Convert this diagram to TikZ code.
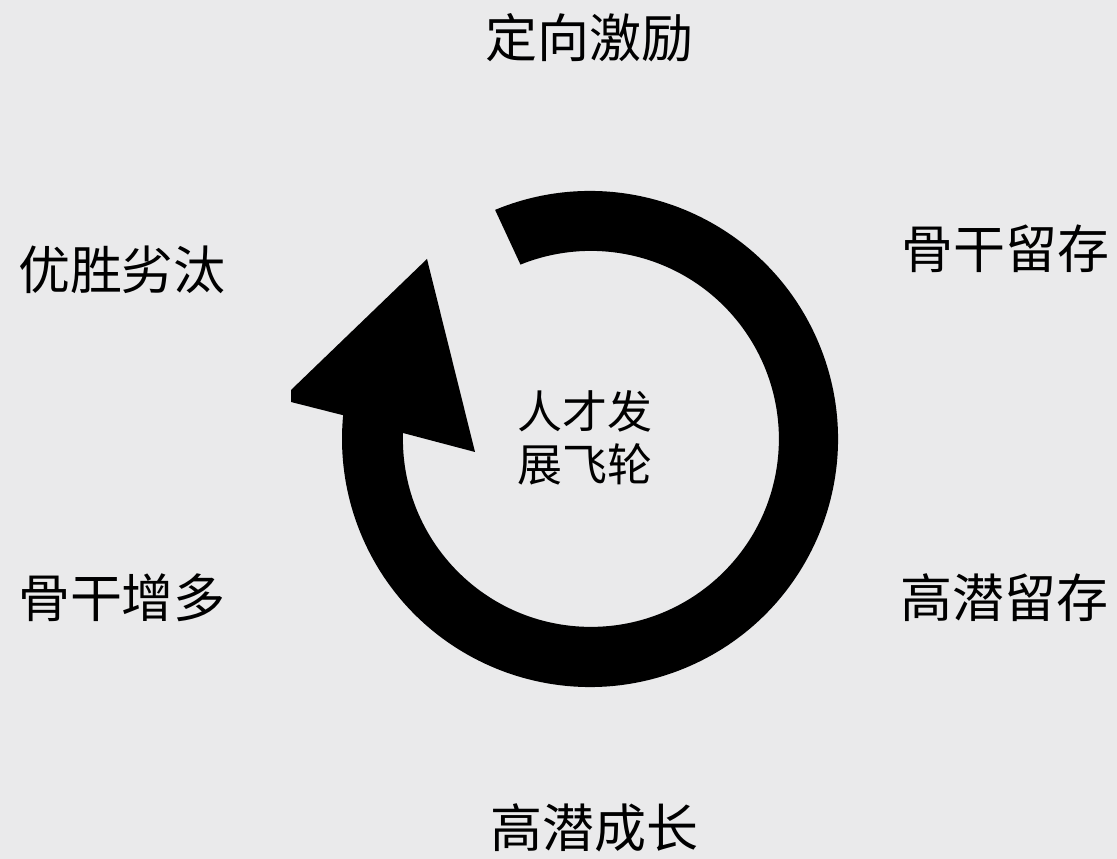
\documentclass[tikz,border=0pt]{standalone}
\usepackage{fontspec}
\usetikzlibrary{calc}
\newfontfamily\cjk{Noto Sans CJK SC}
\definecolor{bgcol}{HTML}{EAEAEB}
\begin{document}
\begin{tikzpicture}[x=1pt,y=1pt,
  label/.style={font=\cjk\fontsize{52}{60}\selectfont, text=black, inner sep=0pt},
  hub/.style={font=\cjk\fontsize{45}{53}\selectfont, text=black, align=center, inner sep=0pt}]
\fill[bgcol] (0,0) rectangle (1117,859);
\useasboundingbox (0,0) rectangle (1117,859);
\coordinate (c) at (590,420);
% circular arrow
\fill[black] ($(c)+(112.5:248)$) arc[start angle=112.5, end angle=-185.5, radius=248]
  -- (291,457) -- (291,469) -- (427,600) -- (475,407) -- (403,426)
  arc[start angle=-181.8, end angle=112, radius=188] -- cycle;
\node[hub] (hubtext) at (585,421) {人才发\\展飞轮};
\node[label] (top) at (589,821) {定向激励};
\node[label] (rtop) at (1005,610) {骨干留存};
\node[label] (ltop) at (122,589) {优胜劣汰};
\node[label] (lbot) at (122,261) {骨干增多};
\node[label] (rbot) at (1004,261) {高潜留存};
\node[label] (bot) at (594,31) {高潜成长};
\end{tikzpicture}
\end{document}
